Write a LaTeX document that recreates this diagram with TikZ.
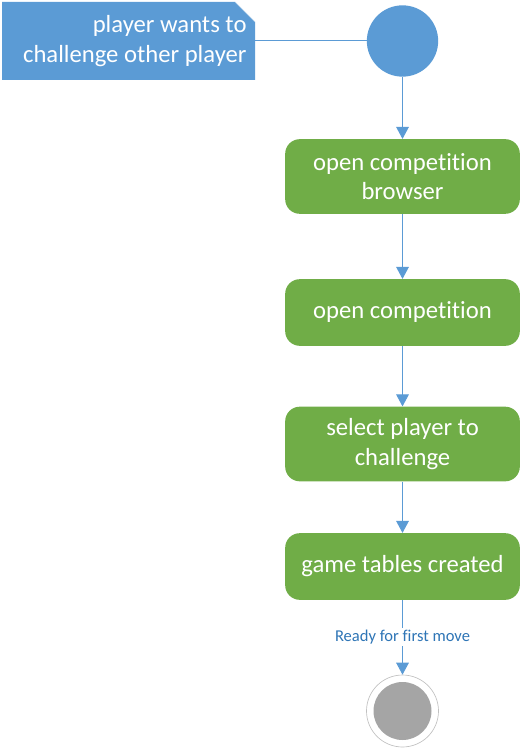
\documentclass[tikz,border=0pt]{standalone}
\usepackage{fontspec}
\setmainfont{Carlito}[Ligatures=NoCommon]
\usetikzlibrary{arrows.meta,positioning}
\definecolor{umlblue}{RGB}{91,155,213}
\definecolor{umlgreen}{RGB}{112,173,71}
\definecolor{umlgray}{RGB}{165,165,165}
\definecolor{umllabel}{RGB}{46,117,182}

\begin{document}
\begin{tikzpicture}[x=0.75pt,y=-0.75pt,
  act/.style={fill=umlgreen,rounded corners=11pt,text=white,minimum width=176pt,
    minimum height=50pt,inner ysep=7.5pt,align=center,font=\fontsize{18.5}{22}\selectfont},
  tallact/.style={act,minimum height=56pt},
  flow/.style={draw=umlblue,line width=0.75pt,-{Triangle[length=9pt,width=9.5pt]}}]
\useasboundingbox (0,0) rectangle (522,748);

% note with folded corner
\fill[umlblue] (2,2) -- (235,2) -- (255,22) -- (255,80) -- (2,80) -- cycle;
\draw[umlblue!45,line width=0.5pt] (235,2) -- (255,22);
\node [text=white,align=flush right,text width=177pt,inner xsep=6pt,
  minimum height=58.5pt,font=\fontsize{18.5}{22}\selectfont] (note) at (128.5,41)
{player wants to\\challenge other player};

\node [circle,fill=umlblue,minimum size=53.5pt,inner sep=0pt] (start) at (402.5,41) {};

\node [tallact] (browser) at (402.5,176.5) {open competition\\browser};
\node [act] (compet) at (402.5,312.5) {open competition};
\node [tallact] (select) at (402.5,444) {select player to\\challenge};
\node [act] (tables) at (402.5,566.5) {game tables created};

\node [circle,draw=umlgray!70,line width=0.5pt,minimum size=54pt,inner sep=0pt] (final) at (402.5,711) {};
\fill[umlgray] (final.center) circle (21.75pt);

\draw[umlblue,line width=0.75pt] (note.east) -- (start);
\draw[flow] (start) -- (browser);
\draw[flow] (browser) -- (compet);
\draw[flow] (compet) -- (select);
\draw[flow] (select) -- (tables);
\draw[flow] (tables) -- node[fill=white,text=umllabel,inner sep=1.5pt,
  font=\fontsize{12.4}{14}\selectfont] {Ready for first move} (final);
\end{tikzpicture}
\end{document}
